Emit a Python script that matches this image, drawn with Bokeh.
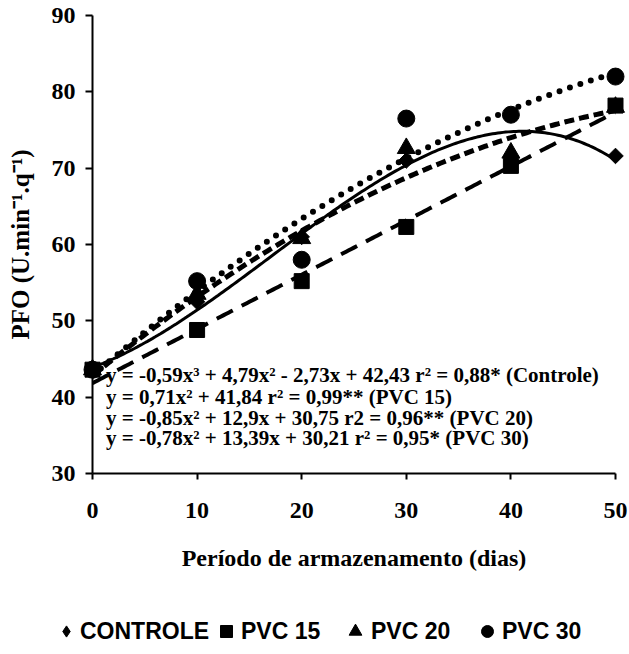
import numpy as np
from bokeh.plotting import figure
from bokeh.layouts import column
from bokeh.models import Range1d, Label, Legend, LegendItem, FixedTicker, LinearAxis
from bokeh.embed import file_html
from bokeh.resources import INLINE

# ---- data ----
days = [0, 10, 20, 30, 40, 50]
controle = [43.6, 52.5, 61.0, 71.0, 71.5, 71.6]
pvc15 = [43.6, 48.8, 55.2, 62.3, 70.3, 78.2]
pvc20 = [43.6, 53.5, 60.8, 72.6, 72.0, 78.0]
pvc30 = [43.6, 55.2, 58.0, 76.5, 77.0, 82.0]

# trend equations as printed (x = sampling order 1..6; PVC 15 is linear in days)
coef_controle = [-0.59, 4.79, -2.73, 42.43]
coef_pvc15 = [0.71, 41.84]
coef_pvc20 = [-0.85, 12.9, 30.75]
coef_pvc30 = [-0.78, 13.39, 30.21]

x_ticks = [0, 10, 20, 30, 40, 50]
y_ticks = [30, 40, 50, 60, 70, 80, 90]
legend_labels = ["CONTROLE", "PVC 15", "PVC 20", "PVC 30"]
eq_lines = [
    "y = -0,59x\u00b3 + 4,79x\u00b2 - 2,73x + 42,43 r\u00b2 = 0,88* (Controle)",
    "y = 0,71x\u00b2 + 41,84 r\u00b2 = 0,99** (PVC 15)",
    "y = -0,85x\u00b2 + 12,9x + 30,75 r2 = 0,96** (PVC 20)",
    "y = -0,78x\u00b2 + 13,39x + 30,21 r\u00b2 = 0,95* (PVC 30)",
]
x_title = "Per\u00edodo de armazenamento (dias)"
y_title = "PFO (U.min\u207b\u00b9.q\u207b\u00b9)"

SERIF = "Liberation Serif"
SANS = "Liberation Sans"

p = figure(width=629, height=600, x_range=Range1d(0, 50), y_range=Range1d(30, 90),
           output_backend="svg", toolbar_location=None,
           min_border_left=92, min_border_right=14, min_border_top=15, min_border_bottom=127)
p.outline_line_color = None
p.xgrid.visible = False
p.ygrid.visible = False
p.background_fill_color = "white"
p.border_fill_color = "white"

# axes
for ax in (p.xaxis[0], p.yaxis[0]):
    ax.axis_line_width = 2
    ax.axis_line_color = "black"
    ax.major_tick_line_width = 2
    ax.major_tick_line_color = "black"
    ax.major_tick_in = 0
    ax.major_tick_out = 6
    ax.minor_tick_line_color = None
    ax.major_label_text_font = SERIF
    ax.major_label_text_font_style = "bold"
    ax.major_label_text_font_size = "24px"
    ax.major_label_text_color = "black"

p.xaxis[0].ticker = FixedTicker(ticks=x_ticks)
p.yaxis[0].ticker = FixedTicker(ticks=y_ticks)
p.yaxis[0].major_tick_out = 7
p.yaxis[0].major_label_standoff = 10
p.xaxis[0].major_label_standoff = 23
p.xaxis[0].axis_label = x_title
p.xaxis[0].axis_label_text_font = SERIF
p.xaxis[0].axis_label_text_font_style = "bold"
p.xaxis[0].axis_label_text_font_size = "24px"
p.xaxis[0].axis_label_text_color = "black"
p.xaxis[0].axis_label_standoff = 24

# y-axis title carried by an outer, otherwise invisible axis (bounds set its centre)
title_axis = LinearAxis(ticker=FixedTicker(ticks=[]), bounds=(58.2, 78.2),
                        axis_line_color=None, major_tick_out=0, major_tick_in=0,
                        minor_tick_line_color=None, major_tick_line_color=None,
                        axis_label=y_title, axis_label_standoff=15,
                        axis_label_text_font=SERIF, axis_label_text_font_style="bold",
                        axis_label_text_font_size="25px", axis_label_text_color="black")
p.add_layout(title_axis, "left")

# trend lines
xd = np.linspace(0, 50, 201)
t = xd / 10 + 1
p.line(xd, np.polyval(coef_controle, t), line_color="black", line_width=3)
p.line(xd, np.polyval(coef_pvc15, xd), line_color="black", line_width=4, line_dash="18 10")
p.line(xd, np.polyval(coef_pvc20, t), line_color="black", line_width=5, line_dash="10 5")
p.line(xd, np.polyval(coef_pvc30, t), line_color="black", line_width=6,
       line_dash="0 11", line_cap="round")

# markers (drawn at overlay level so edge points are not clipped by the frame)
mk = dict(color="black", level="overlay")
r_c = p.scatter(days, controle, marker="square", angle=np.pi / 4, size=11, **mk)
r_20 = p.scatter(days, pvc20, marker="triangle", size=18, **mk)
r_30 = p.scatter(days, pvc30, marker="circle", size=17, **mk)
r_15 = p.scatter(days, pvc15, marker="square", size=15, **mk)

# equations
eq_y = [42.9, 40.0, 37.25, 34.6]
for txt, yy in zip(eq_lines, eq_y):
    p.add_layout(Label(x=1.3, y=yy, text=txt, text_font=SERIF, text_font_style="bold",
                       text_font_size="21px", text_color="black", text_baseline="middle",
                       text_align="left"))

# legend strip below the chart (series drawn outside its ranges; only the key shows)
q = figure(width=629, height=54, x_range=Range1d(0, 1), y_range=Range1d(0, 1),
           output_backend="svg", toolbar_location=None, x_axis_type=None, y_axis_type=None,
           min_border=0)
q.outline_line_color = None
q.xgrid.visible = False
q.ygrid.visible = False
q.border_fill_color = "white"
q.background_fill_color = "white"
if "frame_align" in q.properties():
    q.frame_align = False
l_c = q.scatter(days, controle, marker="diamond", color="black")
l_15 = q.scatter(days, pvc15, marker="square", color="black")
l_20 = q.scatter(days, pvc20, marker="triangle", color="black")
l_30 = q.scatter(days, pvc30, marker="circle", color="black")

key_cx = [66, 226, 355, 487]     # centre of each key marker (px)
key_glyph = [28, 30, 32, 30]     # glyph box -> marker size = 0.4 * box
for lab, rend, cx, gw in zip(legend_labels, [l_c, l_15, l_20, l_30], key_cx, key_glyph):
    q.add_layout(Legend(items=[LegendItem(label=lab, renderers=[rend])],
                        orientation="horizontal",
                        location=(cx - gw // 2, 8 + (30 - gw) // 2),
                        glyph_width=gw, glyph_height=gw, label_standoff=max(0, 13 - gw // 2),
                        padding=0, margin=0, border_line_color=None,
                        background_fill_alpha=0,
                        label_text_font=SANS, label_text_font_style="bold",
                        label_text_font_size="23px", label_text_color="black"))

open("out.html", "w").write(file_html(column(p, q, spacing=0), INLINE))
